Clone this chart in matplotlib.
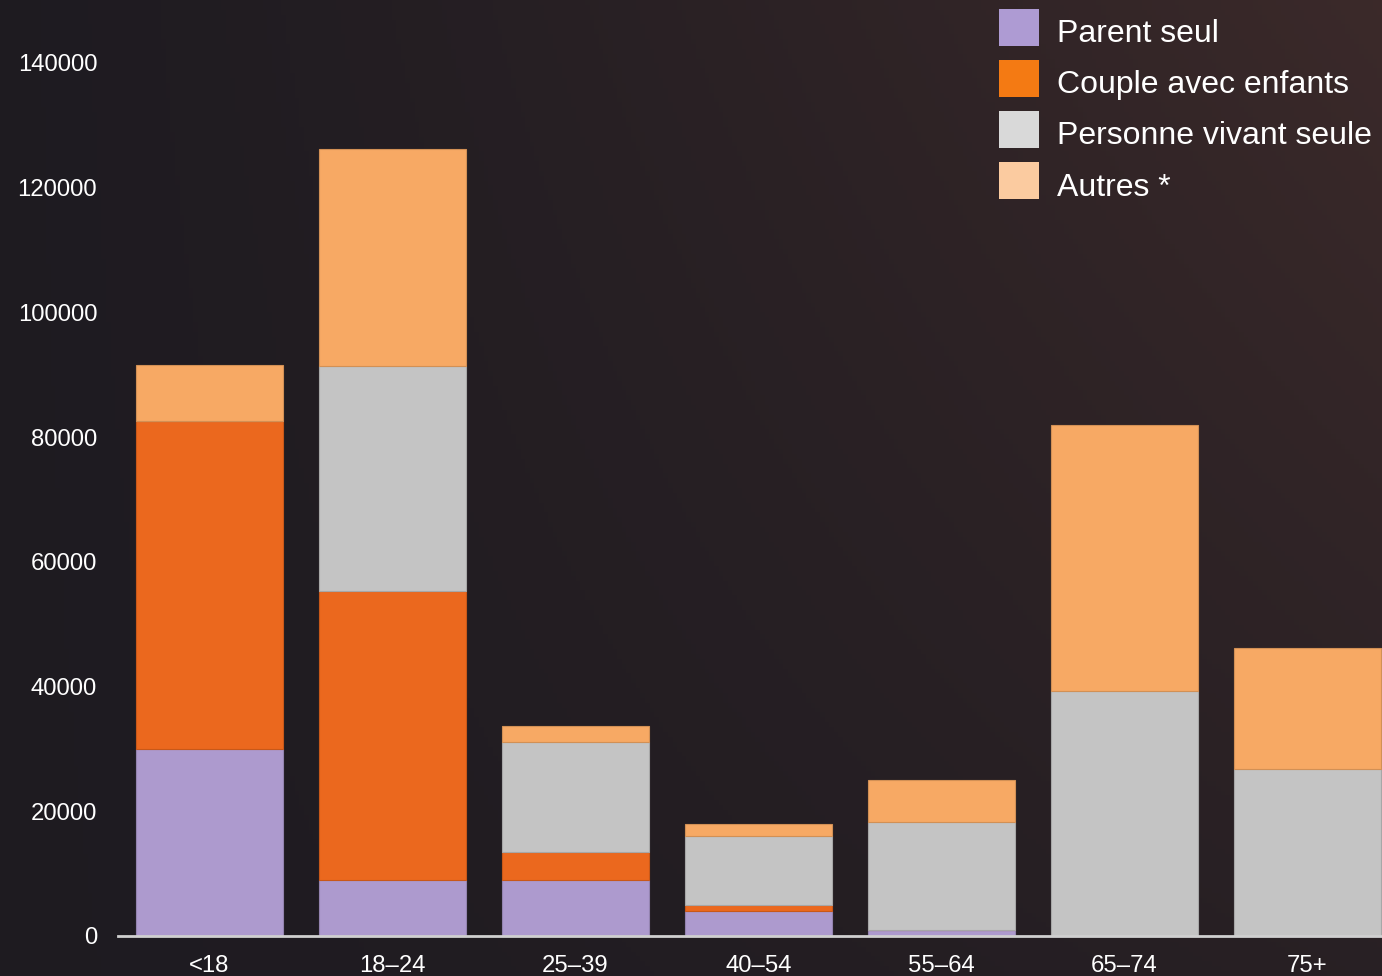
import numpy as np
import matplotlib
matplotlib.use("Agg")
import matplotlib.pyplot as plt
from matplotlib.patches import Rectangle

plt.rcParams["font.family"] = ["Liberation Sans", "DejaVu Sans"]

# Données
age_groups = ["<18", "18–24", "25–39", "40–54", "55–64", "65–74", "75+"]
parent_seul = [30000, 9000, 9000, 4000, 1000, 0, 0]
couple_enfants = [52600, 46300, 4500, 1000, 0, 0, 0]
personne_seule = [0, 36100, 17600, 11000, 17300, 39300, 26800]
autres = [9000, 34800, 2600, 2000, 6700, 42600, 19400]

series_names = ["Parent seul", "Couple avec enfants", "Personne vivant seule", "Autres *"]
bar_colors = ["#ad9ace", "#eb681e", "#c4c4c4", "#f7a964"]
legend_colors = ["#ae9bd3", "#f47a13", "#d9d9d9", "#fbcba0"]
yticks = [0, 20000, 40000, 60000, 80000, 100000, 120000, 140000]

W, H = 1382, 976
fig = plt.figure(figsize=(W / 100, H / 100), dpi=100)

# fond en dégradé
bg = fig.add_axes([0, 0, 1, 1], zorder=-10)
bg.set_axis_off()
h, w = 200, 300
xx = np.linspace(0, 1, w)[None, :]
yy = np.linspace(0, 1, h)[:, None]
dark = np.array([0.118, 0.106, 0.129])
warm = np.array([0.245, 0.170, 0.168])
t = np.clip(0.8 * xx ** 1.3 * (1 - 0.6 * yy) + 0.1 * xx * (1 - yy), 0, 1)
img = dark[None, None, :] * (1 - t[..., None]) + warm[None, None, :] * t[..., None]
bg.imshow(img, aspect="auto", extent=[0, 1, 0, 1], origin="upper")

ax = fig.add_axes([118 / W, 40 / H, 1281 / W, 935.4 / H])
ax.patch.set_alpha(0)

x = np.arange(len(age_groups))
stack = [parent_seul, couple_enfants, personne_seule, autres]
bottom = np.zeros(len(age_groups))
for vals, col in zip(stack, bar_colors):
    vals = np.array(vals)
    edge = tuple(np.array(matplotlib.colors.to_rgb(col)) * 0.85)
    ax.bar(x, vals, width=0.8, bottom=bottom, color=col, edgecolor=edge, linewidth=0.8)
    bottom += vals

ax.set_xlim(-0.5, len(age_groups) - 0.5)
ax.set_ylim(0, 150000)
ax.set_xticks(x)
ax.set_xticklabels(age_groups)
ax.set_yticks(yticks)
ax.set_yticklabels([str(v) for v in yticks])
ax.tick_params(axis="both", length=0, colors="white", labelsize=17.2)
ax.tick_params(axis="y", pad=15)
ax.tick_params(axis="x", pad=14)
for s in ["top", "right", "left"]:
    ax.spines[s].set_visible(False)
ax.spines["bottom"].set_color("#d0d0d0")
ax.spines["bottom"].set_linewidth(2)

# légende dessinée à la main (pixels depuis le haut)
for i, (name, col) in enumerate(zip(series_names, legend_colors)):
    top = 9 + i * 51
    fig.add_artist(Rectangle((999 / W, 1 - (top + 37) / H), 40 / W, 37 / H,
                             transform=fig.transFigure, facecolor=col, edgecolor="none"))
    fig.text(1057 / W, 1 - (top + 33.5) / H, name, color="white", fontsize=23,
             ha="left", va="baseline")

fig.savefig("out.png", dpi=100)
